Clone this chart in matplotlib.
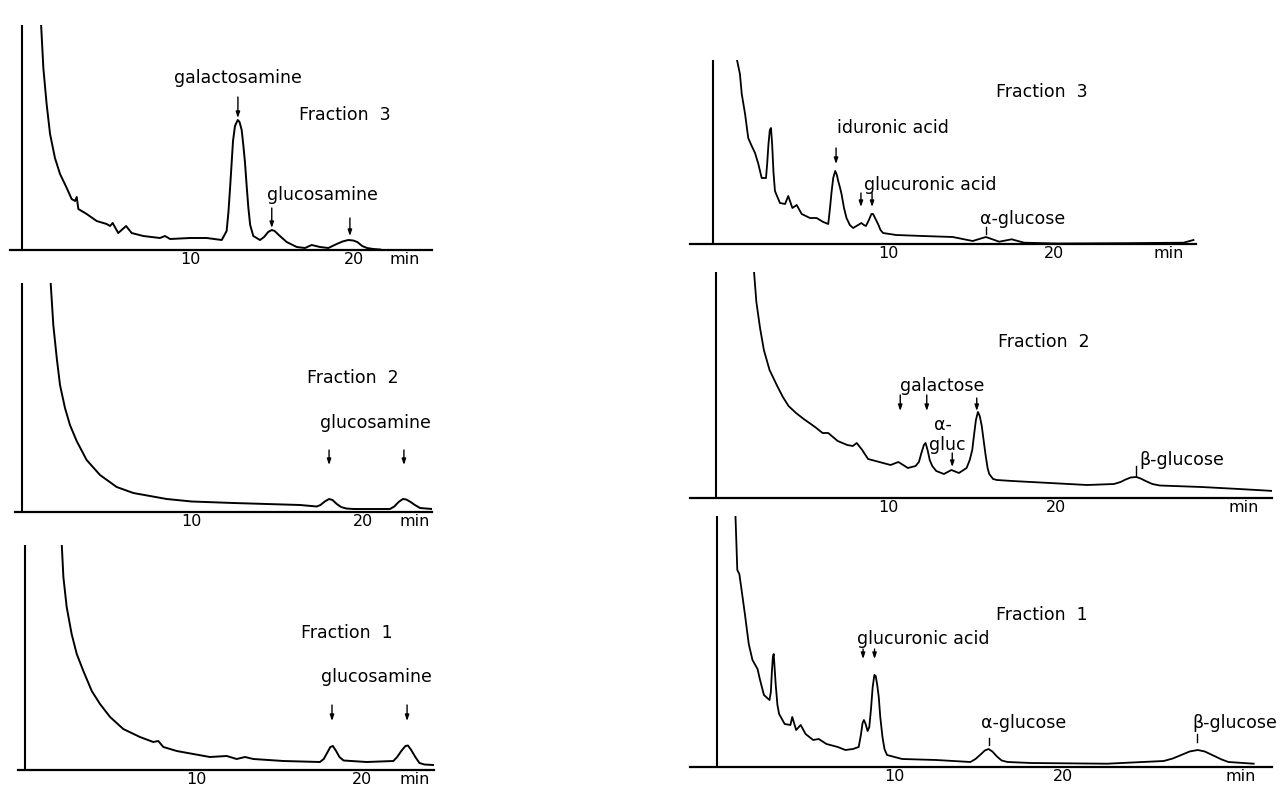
import matplotlib
matplotlib.use("Agg")
import matplotlib.pyplot as plt

# --- chromatogram traces: retention time (min), signal (px above baseline)
l3_t = [0.86, 1.0, 1.2, 1.41, 1.71, 2.02, 2.43, 2.73, 2.94, 3.04, 3.14, 3.65, 4.26, 4.87, 5.08, 5.24,
        5.58, 6.06, 6.4, 7.11, 8.13, 8.44, 8.75, 9.97, 10.99, 11.91, 12.21, 12.32, 12.42, 12.52, 12.6,
        12.72, 12.89, 13.0, 13.13, 13.23, 13.33, 13.44, 13.54, 13.65, 13.84, 14.25, 14.5, 14.75, 14.97,
        15.15, 15.4, 15.88, 16.5, 17.0, 17.41, 17.92, 18.43, 18.94, 19.3, 19.65, 19.95, 20.2, 20.5,
        20.8, 21.18, 21.6]
l3_h = [226, 182, 146, 116, 92, 76, 62, 51, 49, 53, 41, 36, 29, 26, 24, 27,
        17, 24, 17, 14, 12, 14, 11, 12, 12, 10, 19, 38, 62, 88, 109,
        124, 130, 128, 120, 105, 88, 63, 42, 25, 14, 10, 13, 18, 20,
        19, 15, 8, 3, 2, 5, 3, 2, 6, 8.5, 10, 9.5, 8, 4,
        2, 1, 0.5]

l2_t = [1.79, 1.94, 2.14, 2.33, 2.62, 2.91, 3.3, 3.88, 4.66, 5.63, 6.6, 7.57, 8.54, 10.0, 12.43,
        14.37, 16.31, 17.28, 17.5, 17.75, 18.0, 18.2, 18.45, 18.7, 19.0, 19.42, 21.55, 21.8, 22.05,
        22.3, 22.5, 22.75, 23.0, 23.3, 24.0]
l2_h = [228, 187, 154, 127, 104, 87, 71, 52, 37, 25, 19, 16, 13, 10.5, 9,
        8, 7, 5.5, 7, 10.5, 13, 12, 8, 5, 3.5, 3, 3, 5.5, 10,
        13, 12.5, 10, 7, 4, 3]

l1_t = [1.82, 1.92, 2.12, 2.42, 2.73, 3.13, 3.64, 4.14, 4.75, 5.55, 6.56, 7.37, 7.67, 7.98, 8.79,
        9.79, 10.8, 11.82, 12.42, 12.93, 13.43, 15.25, 17.47, 17.7, 17.9, 18.1, 18.25, 18.45, 18.65,
        18.9, 20.3, 21.92, 22.15, 22.4, 22.65, 22.8, 23.0, 23.25, 23.5, 23.8, 24.34]
l1_h = [226, 193, 163, 136, 116, 99, 79, 66, 53, 41, 33, 28, 29, 23, 19,
        16, 13, 14, 11, 13, 11, 9, 8, 11, 17, 23, 24, 19, 13,
        9.5, 8, 9, 13, 19, 24, 24.5, 20, 13, 7, 5.5, 5]

r3_t = [0.88, 1.08, 1.19, 1.39, 1.58, 1.79, 1.99, 2.19, 2.39, 2.65, 2.72, 2.8, 2.88, 2.95, 3.02,
        3.1, 3.19, 3.49, 3.8, 3.99, 4.24, 4.5, 4.8, 5.3, 5.7, 6.1, 6.4, 6.5, 6.6, 6.7, 6.82, 6.92,
        7.0, 7.1, 7.2, 7.35, 7.5, 7.7, 7.9, 8.4, 8.55, 8.67, 8.85, 9.0, 9.1, 9.25, 9.4, 9.55, 9.7,
        10.5, 12.1, 13.9, 15.1, 15.9, 16.7, 17.45, 18.2, 20.2, 24.2, 27.8, 28.4]
r3_h = [186, 170, 150, 130, 106, 98, 91, 80, 66, 66, 80, 100, 114, 116, 100,
        72, 53, 41, 40, 48, 36, 39, 30, 26, 26, 22, 20, 35, 52, 66, 73, 69,
        63, 57, 50, 36, 26, 19, 16, 21, 19, 18, 24, 30, 30, 25, 20, 14, 11,
        9, 8, 7, 3, 7, 2.3, 4.7, 1.3, 0.5, 0.8, 1.3, 4]

r2_t = [1.9, 2.05, 2.27, 2.5, 2.84, 3.3, 3.64, 3.98, 4.43, 4.89, 5.57, 6.02, 6.36, 6.93, 7.5, 7.84,
        8.07, 8.4, 8.75, 9.43, 10.1, 10.57, 11.14, 11.6, 11.8, 11.95, 12.1, 12.2, 12.32, 12.45, 12.6,
        12.84, 13.3, 13.75, 14.2, 14.66, 14.85, 15.0, 15.1, 15.22, 15.34, 15.45, 15.57, 15.68, 15.8,
        15.92, 16.02, 16.25, 16.48, 17.4, 19.66, 21.9, 23.5, 23.9, 24.2, 24.5, 24.84, 25.1, 25.4,
        25.8, 26.25, 28.75, 31.0, 33.1]
r2_h = [228, 196, 170, 148, 128, 112, 101, 92, 85, 79, 71, 65, 65, 57, 53, 52,
        55, 48, 39, 36, 33, 36, 30, 32, 36, 45, 53, 55, 48, 38, 32,
        27, 24, 28, 25, 30, 38, 48, 62, 78, 86, 82, 72, 58, 43,
        30, 24, 19, 18, 17, 15, 13, 14, 16, 18.5, 20.5, 21, 19.5, 17,
        14, 12.5, 11, 9, 7]

r1_t = [0.56, 0.67, 0.79, 0.9, 1.12, 1.35, 1.57, 1.87, 2.02, 2.25, 2.58, 2.66, 2.72, 2.78, 2.83,
        2.88, 2.95, 3.05, 3.15, 3.48, 3.82, 3.93, 4.16, 4.43, 4.72, 5.17, 5.5, 5.96, 6.63, 7.08,
        7.53, 7.87, 8.0, 8.1, 8.18, 8.28, 8.4, 8.5, 8.6, 8.7, 8.8, 8.88, 8.97, 9.06, 9.15, 9.28,
        9.4, 9.55, 10.45, 12.47, 14.5, 14.8, 15.1, 15.35, 15.57, 15.8, 16.07, 16.35, 16.7, 18.1,
        22.6, 25.96, 26.5, 27.0, 27.5, 27.98, 28.4, 28.9, 29.4, 29.8, 31.3]
r1_h = [252, 197, 193, 180, 153, 123, 107, 98, 87, 72, 67, 75, 95, 110, 113,
        100, 82, 62, 53, 43, 42, 50, 37, 42, 33, 27, 28, 23, 20, 17,
        18, 20, 32, 44, 47, 43, 36, 40, 58, 80, 92, 91, 82, 70, 50, 30,
        18, 12, 8, 7, 5, 8, 12.5, 16.5, 18, 15.5, 10.5, 6.5, 5, 4,
        3.3, 6, 8.5, 12, 15.5, 17, 15.5, 11.5, 7.5, 5, 3.3]

tick_labels = ['10', '20', 'min']


def panel(px_left, px_right, px_top, px_base, t_zero, px_per_min, t_yaxis, t_min):
    W, H = 1284.0, 788.0
    ax = fig.add_axes([px_left / W, 1 - px_base / H, (px_right - px_left) / W, (px_base - px_top) / H])
    ax.set_xlim((px_left - t_zero) / px_per_min, (px_right - t_zero) / px_per_min)
    ax.set_ylim(0, px_base - px_top)
    for s in ['top', 'right', 'left']:
        ax.spines[s].set_visible(False)
    ax.spines['bottom'].set_linewidth(1.6)
    ax.axvline(t_yaxis, color='black', lw=1.5)
    ax.set_yticks([])
    ax.set_xticks([10, 20, t_min], tick_labels)
    ax.tick_params(axis='x', length=0, pad=1.5, labelsize=11.5)
    ax.patch.set_alpha(0)
    return ax


def arrow(ax, t, h0, h1, head=True):
    if head:
        ax.annotate('', xy=(t, h1), xytext=(t, h0),
                    arrowprops=dict(arrowstyle='-|>,head_length=0.35,head_width=0.12', lw=1.0, color='black',
                                    shrinkA=0, shrinkB=0))
    else:
        ax.plot([t, t], [h0, h1], color='black', lw=1.0)


fig = plt.figure(figsize=(12.84, 7.88), dpi=100)
fs = 12.5
kw = dict(ha='center', va='center', fontsize=fs)

# left column (hexosamines)
ax = panel(10, 432, 25, 250, 27, 16.35, -0.31, 23.1)
ax.plot(l3_t, l3_h, color='black', lw=1.4)
ax.text(12.9, 172, 'galactosamine', **kw)
arrow(ax, 12.9, 153, 132)
ax.text(19.45, 135, 'Fraction  3', **kw)
ax.text(18.1, 55, 'glucosamine', **kw)
arrow(ax, 14.97, 42, 22)
arrow(ax, 19.75, 32, 14)

ax = panel(15, 432, 283, 512, 20, 17.17, 0.12, 23.0)
ax.plot(l2_t, l2_h, color='black', lw=1.4)
ax.text(19.4, 134, 'Fraction  2', **kw)
ax.text(20.7, 89, 'glucosamine', **kw)
arrow(ax, 18.0, 62, 47)
arrow(ax, 22.36, 62, 47)

ax = panel(18, 434, 545, 770, 31.7, 16.5, -0.4, 23.2)
ax.plot(l1_t, l1_h, color='black', lw=1.4)
ax.text(19.09, 137, 'Fraction  1', **kw)
ax.text(20.9, 93, 'glucosamine', **kw)
arrow(ax, 18.2, 65, 49)
arrow(ax, 22.75, 65, 49)

# right column (uronic acids and neutral sugars)
ax = panel(690, 1196, 60, 244, 722, 16.6, -0.54, 26.9)
ax.plot(r3_t, r3_h, color='black', lw=1.3)
ax.text(19.28, 152, 'Fraction  3', **kw)
ax.text(10.3, 116, 'iduronic acid', **kw)
arrow(ax, 6.87, 96, 80)
ax.text(12.53, 59, 'glucuronic acid', **kw)
arrow(ax, 8.37, 51, 37)
arrow(ax, 9.04, 51, 37)
ax.text(18.13, 25, 'α-glucose', **kw)
arrow(ax, 15.9, 17, 10, head=False)

ax = panel(690, 1272, 272, 498, 722.2, 16.67, -0.39, 31.3)
ax.plot(r2_t, r2_h, color='black', lw=1.3)
ax.text(19.3, 156, 'Fraction  2', **kw)
ax.text(13.2, 112, 'galactose', **kw)
arrow(ax, 10.68, 103, 87)
arrow(ax, 12.27, 103, 87)
arrow(ax, 15.27, 100, 87)
ax.text(13.25, 73, 'α-', **kw)
ax.text(13.5, 53, 'gluc', **kw)
arrow(ax, 13.8, 45, 31)
ax.text(27.6, 38, 'β-glucose', **kw)
arrow(ax, 24.84, 32, 22, head=False)

ax = panel(690, 1272, 516, 767, 726, 16.86, -0.52, 30.5)
ax.plot(r1_t, r1_h, color='black', lw=1.3)
ax.text(18.76, 152, 'Fraction  1', **kw)
ax.text(11.69, 128, 'glucuronic acid', **kw)
arrow(ax, 8.13, 118, 108)
arrow(ax, 8.81, 118, 108)
ax.text(17.64, 44, 'α-glucose', **kw)
arrow(ax, 15.57, 29, 22, head=False)
ax.text(30.2, 44, 'β-glucose', **kw)
arrow(ax, 27.93, 33, 25, head=False)

fig.savefig('out.png', dpi=100)
